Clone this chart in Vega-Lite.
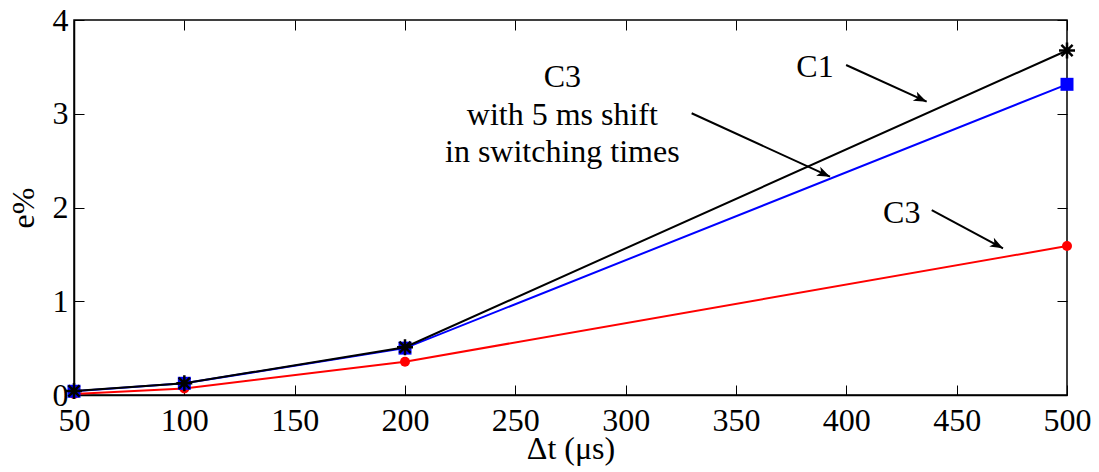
{
  "$schema": "https://vega.github.io/schema/vega-lite/v6.json",
  "width": 993,
  "height": 375,
  "autosize": "none",
  "padding": {"left": 74, "top": 20, "right": 32, "bottom": 77},
  "background": "white",
  "config": {
    "view": {"stroke": "black", "strokeWidth": 1.5},
    "font": "Liberation Serif",
    "axis": {
      "grid": false,
      "domainColor": "black",
      "domainWidth": 1.5,
      "tickColor": "black",
      "tickWidth": 1,
      "labelColor": "black",
      "labelFont": "Liberation Serif",
      "labelFontSize": 32,
      "titleColor": "black",
      "titleFont": "Liberation Serif",
      "titleFontSize": 32,
      "titleFontWeight": "normal",
      "labelFlush": false,
      "labelOverlap": false
    }
  },
  "datasets": {
    "series": [
      {"x": 50, "e": 0.01, "series": "C3"},
      {"x": 100, "e": 0.07, "series": "C3"},
      {"x": 200, "e": 0.355, "series": "C3"},
      {"x": 500, "e": 1.589, "series": "C3"},
      {"x": 50, "e": 0.04, "series": "C3 shift"},
      {"x": 100, "e": 0.125, "series": "C3 shift"},
      {"x": 200, "e": 0.5, "series": "C3 shift"},
      {"x": 500, "e": 3.314, "series": "C3 shift"},
      {"x": 50, "e": 0.043, "series": "C1"},
      {"x": 100, "e": 0.125, "series": "C1"},
      {"x": 200, "e": 0.509, "series": "C1"},
      {"x": 500, "e": 3.675, "series": "C1"}
    ],
    "arrows": [
      {"id": "C1", "x": 399.9, "y": 3.52, "x2": 436.4, "y2": 3.129},
      {"id": "mid", "x": 329.9, "y": 3.005, "x2": 392.6, "y2": 2.329},
      {"id": "C3", "x": 438.7, "y": 1.973, "x2": 471.0, "y2": 1.565}
    ],
    "labels": [
      {"text": "C1", "x": 385.8, "y": 3.395},
      {"text": "C3", "x": 271.3, "y": 3.288},
      {"text": "with 5 ms shift", "x": 271.3, "y": 2.88},
      {"text": "in switching times", "x": 271.3, "y": 2.488},
      {"text": "C3", "x": 425.1, "y": 1.831}
    ]
  },
  "layer": [
    {
      "data": {"name": "series"},
      "transform": [{"filter": "datum.series === 'C3'"}],
      "mark": {"type": "line", "color": "#FF0000", "strokeWidth": 2,
        "point": {"shape": "circle", "size": 100, "filled": true, "color": "#FF0000"}},
      "encoding": {
        "x": {"field": "x", "type": "quantitative",
          "scale": {"domain": [50, 500], "nice": false, "zero": false},
          "axis": {"orient": "bottom", "values": [50, 100, 150, 200, 250, 300, 350, 400, 450, 500],
            "tickSize": -10, "labelPadding": 20, "title": "Δt (μs)", "titlePadding": -3}},
        "y": {"field": "e", "type": "quantitative",
          "scale": {"domain": [0, 4], "nice": false, "zero": true},
          "axis": {"orient": "left", "values": [0, 1, 2, 3, 4], "tickSize": -10, "labelPadding": 16,
            "title": "e%", "titlePadding": 12}}
      }
    },
    {
      "data": {"name": "series"},
      "transform": [{"filter": "datum.series === 'C3 shift'"}],
      "mark": {"type": "line", "color": "#0000FF", "strokeWidth": 2,
        "point": {"shape": "square", "size": 169, "filled": true, "color": "#0000FF"}},
      "encoding": {
        "x": {"field": "x", "type": "quantitative",
          "axis": {"orient": "top", "values": [50, 100, 150, 200, 250, 300, 350, 400, 450, 500],
            "tickSize": -10, "labels": false, "domain": false, "title": null}},
        "y": {"field": "e", "type": "quantitative",
          "axis": {"orient": "right", "values": [0, 1, 2, 3, 4], "tickSize": -10, "labels": false,
            "domain": false, "title": null}}
      }
    },
    {
      "data": {"name": "series"},
      "transform": [{"filter": "datum.series === 'C1'"}],
      "mark": {"type": "line", "color": "#000000", "strokeWidth": 2,
        "point": {"shape": "M-1,0L1,0M0,-1L0,1M-0.7,-0.7L0.7,0.7M-0.7,0.7L0.7,-0.7", "size": 256,
          "filled": false, "stroke": "#000000", "strokeWidth": 2.5}},
      "encoding": {
        "x": {"field": "x", "type": "quantitative", "axis": null},
        "y": {"field": "e", "type": "quantitative", "axis": null}
      }
    },
    {
      "data": {"name": "arrows"},
      "mark": {"type": "rule", "color": "#000000", "strokeWidth": 2},
      "encoding": {
        "x": {"field": "x", "type": "quantitative", "axis": null},
        "y": {"field": "y", "type": "quantitative", "axis": null},
        "x2": {"field": "x2"},
        "y2": {"field": "y2"}
      }
    },
    {
      "data": {"name": "arrows"},
      "transform": [{"filter": "datum.id === 'C1'"}],
      "mark": {"type": "point", "shape": "M0,0L-2,-0.75L-1.5,0L-2,0.75Z", "size": 169, "filled": true,
        "color": "#000000", "opacity": 1, "angle": 24.4},
      "encoding": {
        "x": {"field": "x2", "type": "quantitative", "axis": null},
        "y": {"field": "y2", "type": "quantitative", "axis": null}
      }
    },
    {
      "data": {"name": "arrows"},
      "transform": [{"filter": "datum.id === 'mid'"}],
      "mark": {"type": "point", "shape": "M0,0L-2,-0.75L-1.5,0L-2,0.75Z", "size": 169, "filled": true,
        "color": "#000000", "opacity": 1, "angle": 24.6},
      "encoding": {
        "x": {"field": "x2", "type": "quantitative", "axis": null},
        "y": {"field": "y2", "type": "quantitative", "axis": null}
      }
    },
    {
      "data": {"name": "arrows"},
      "transform": [{"filter": "datum.id === 'C3'"}],
      "mark": {"type": "point", "shape": "M0,0L-2,-0.75L-1.5,0L-2,0.75Z", "size": 169, "filled": true,
        "color": "#000000", "opacity": 1, "angle": 28.2},
      "encoding": {
        "x": {"field": "x2", "type": "quantitative", "axis": null},
        "y": {"field": "y2", "type": "quantitative", "axis": null}
      }
    },
    {
      "data": {"name": "labels"},
      "mark": {"type": "text", "font": "Liberation Serif", "fontSize": 32, "color": "#000000",
        "align": "center", "baseline": "alphabetic"},
      "encoding": {
        "x": {"field": "x", "type": "quantitative", "axis": null},
        "y": {"field": "y", "type": "quantitative", "axis": null},
        "text": {"field": "text"}
      }
    }
  ],
  "resolve": {"axis": {"x": "independent", "y": "independent"}}
}
